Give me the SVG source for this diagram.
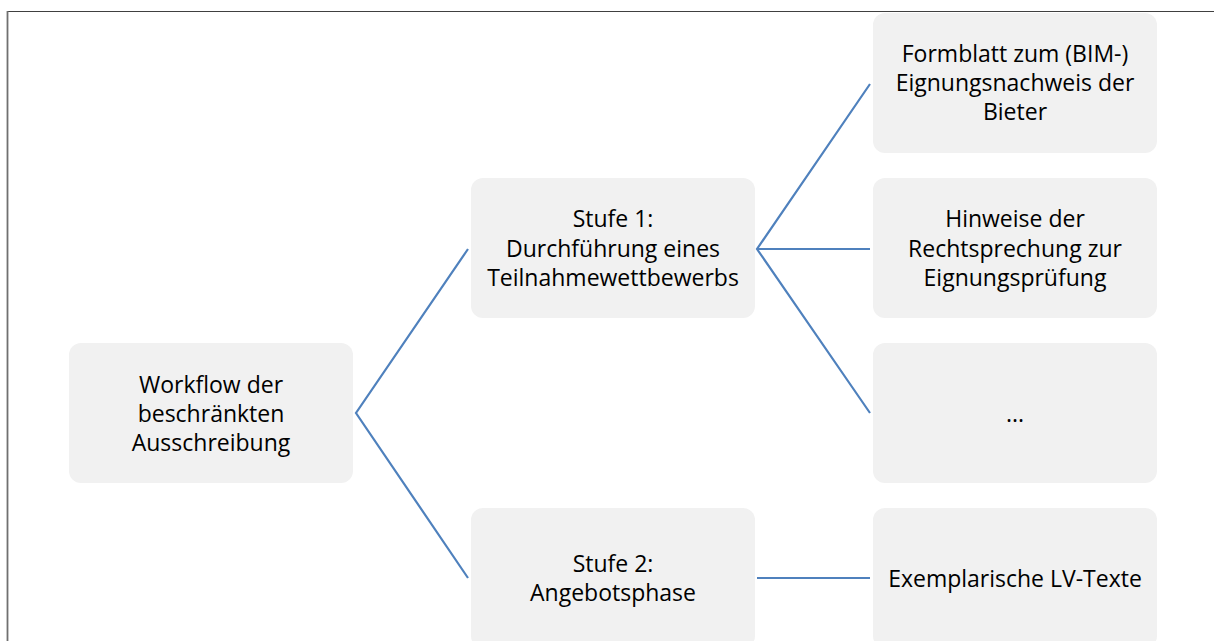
<svg xmlns="http://www.w3.org/2000/svg" width="1214" height="641" viewBox="0 0 1214 641">
<style>
.box{fill:#f1f1f1;}
.t{font-family:"Open Sans","Noto Sans","Liberation Sans",sans-serif;font-size:23px;fill:#000;text-anchor:middle;}
.c{fill:none;stroke:#4f81bd;stroke-width:2.2;}
</style>
<rect x="0" y="0" width="1214" height="641" fill="#fff"/>
<g id="frame">
<line x1="7" y1="11.5" x2="1214" y2="11.5" stroke="#404040" stroke-width="1.2"/>
<line x1="7.5" y1="11" x2="7.5" y2="641" stroke="#707070" stroke-width="1.8"/>
</g>
<g id="connectors">
<polyline class="c" points="468,249 356,413 468,578"/>
<polyline class="c" points="870,84 757,249 870,413"/>
<line class="c" x1="757" y1="249" x2="870" y2="249"/>
<line class="c" x1="757" y1="578" x2="870" y2="578"/>
</g>
<g id="root">
<rect class="box" x="69" y="343" width="284" height="140" rx="12"/>
<text class="t" x="211" y="393">Workflow der</text>
<text class="t" x="211" y="422">beschränkten</text>
<text class="t" x="211" y="451">Ausschreibung</text>
</g>
<g id="stufe1">
<rect class="box" x="471" y="178" width="284" height="140" rx="12"/>
<text class="t" x="613" y="227">Stufe 1:</text>
<text class="t" x="613" y="257">Durchführung eines</text>
<text class="t" x="613" y="286">Teilnahmewettbewerbs</text>
</g>
<g id="stufe2">
<rect class="box" x="471" y="508" width="284" height="140" rx="12"/>
<text class="t" x="613" y="572">Stufe 2:</text>
<text class="t" x="613" y="601">Angebotsphase</text>
</g>
<g id="formblatt">
<rect class="box" x="873" y="13" width="284" height="140" rx="12"/>
<text class="t" x="1015" y="62">Formblatt zum (BIM-)</text>
<text class="t" x="1015" y="91">Eignungsnachweis der</text>
<text class="t" x="1015" y="120">Bieter</text>
</g>
<g id="hinweise">
<rect class="box" x="873" y="178" width="284" height="140" rx="12"/>
<text class="t" x="1015" y="227">Hinweise der</text>
<text class="t" x="1015" y="257">Rechtsprechung zur</text>
<text class="t" x="1015" y="286">Eignungsprüfung</text>
</g>
<g id="dots">
<rect class="box" x="873" y="343" width="284" height="140" rx="12"/>
<text class="t" x="1015" y="422">...</text>
</g>
<g id="lvtexte">
<rect class="box" x="873" y="508" width="284" height="140" rx="12"/>
<text class="t" x="1015" y="587">Exemplarische LV-Texte</text>
</g>
</svg>
